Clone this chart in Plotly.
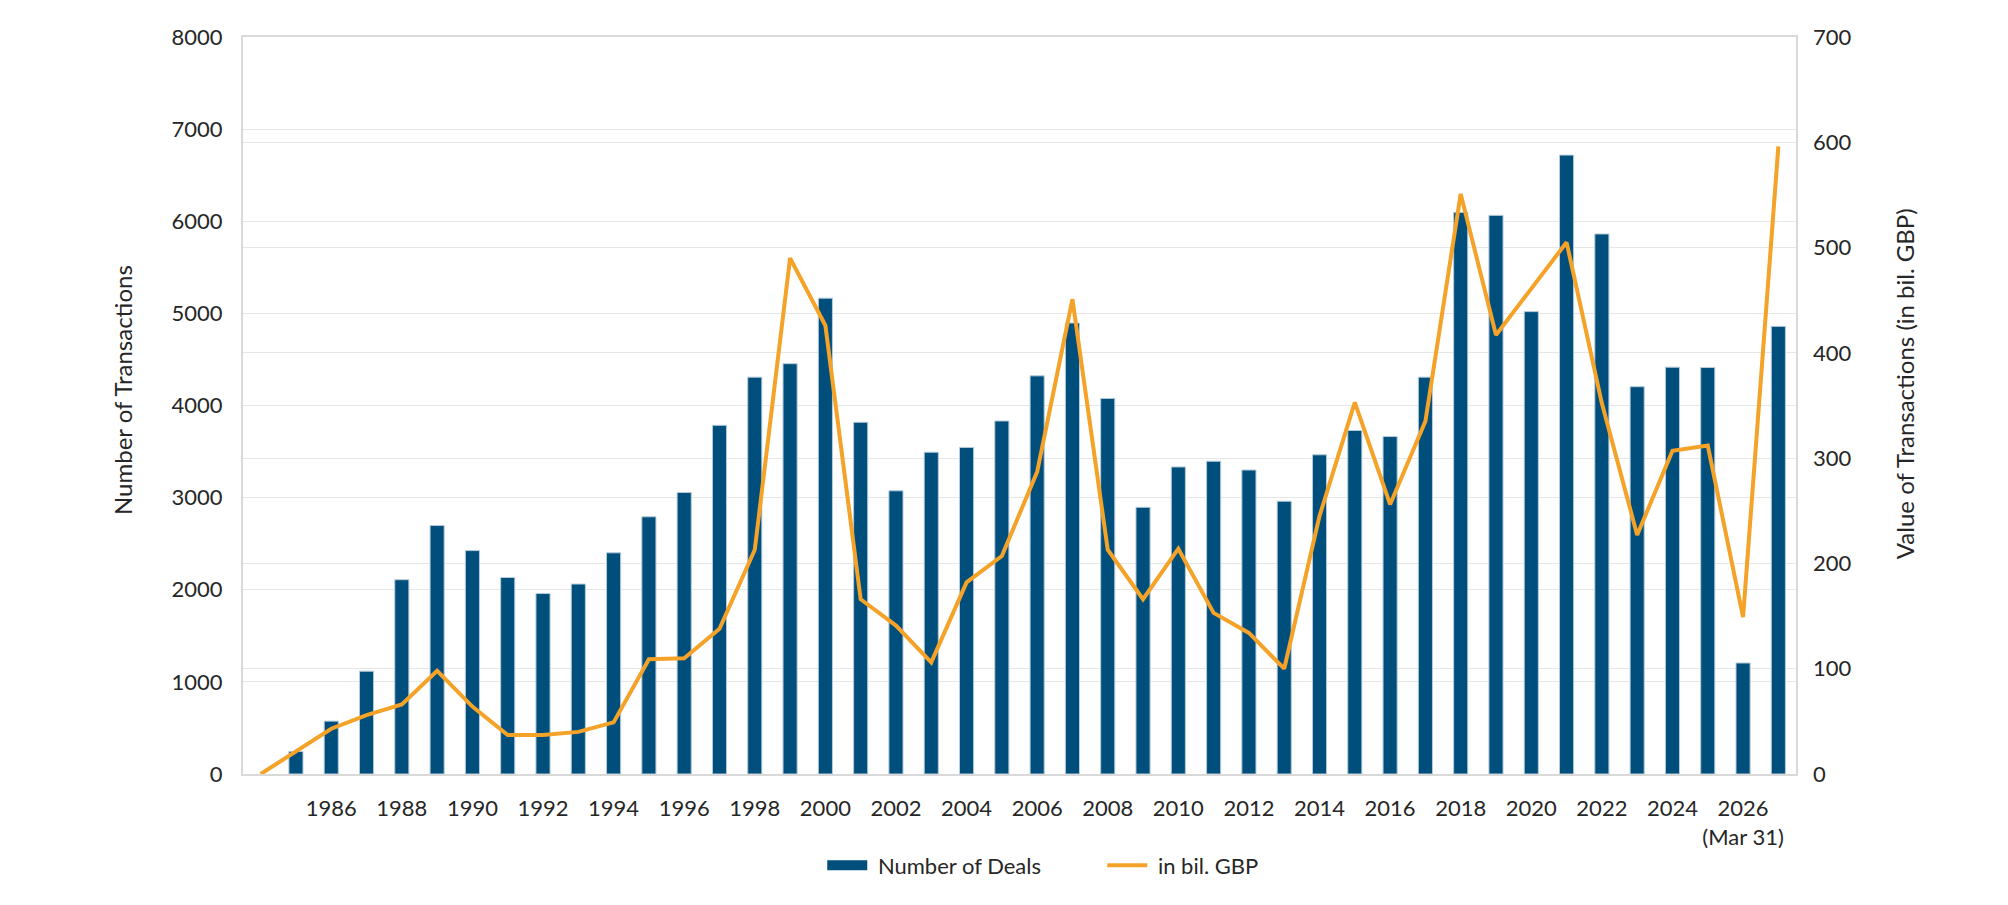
import plotly.graph_objects as go

years = list(range(1984, 2028))
deals = [None, 245, 574, 1116, 2109, 2698, 2425, 2133, 1959, 2062, 2401,
         2792, 3056, 3785, 4308, 4454, 5165, 3818, 3074, 3493, 3545,
         3832, 4322, 4896, 4077, 2895, 3333, 3395, 3300, 2961, 3465,
         3729, 3663, 4308, 6097, 6064, 5019, 6718, 5862, 4204, 4416,
         4412, 1205, 4859]
value_gbp = [0, 21, 43, 56, 66, 98, 64, 37, 37, 40, 49,
             109, 110, 138, 213, 490, 426, 166, 141, 106, 182,
             207, 287, 451, 213, 166, 214, 153, 134, 100, 245,
             353, 256, 335, 551, 417, 461, 505, 352, 227, 307,
             312, 149, 596]
tick_years = list(range(1986, 2027, 2))
tick_text = [str(y) for y in tick_years[:-1]] + ["2026<br>(Mar 31)"]

FONT = "Lato"
TXT = "#262626"
GRID = "#E6E6E6"
BLUE = "#004E7C"
ORANGE = "#F5A228"

fig = go.Figure()
fig.add_trace(go.Bar(
    x=years, y=deals, name="Number of Deals", showlegend=False,
    marker=dict(color=BLUE, line=dict(color="#B7CCDC", width=1)),
    width=0.4, yaxis="y",
))
fig.add_trace(go.Scatter(
    x=years, y=value_gbp, name="in bil. GBP", mode="lines", showlegend=False,
    line=dict(color=ORANGE, width=4), yaxis="y2",
))
# legend-only entries
fig.add_trace(go.Scatter(
    x=[None], y=[None], name=" Number of Deals", mode="lines",
    line=dict(color=BLUE, width=12), yaxis="y",
))
fig.add_trace(go.Scatter(
    x=[None], y=[None], name=" in bil. GBP", mode="lines",
    line=dict(color=ORANGE, width=4), yaxis="y2",
))

fig.update_layout(
    width=2008, height=905,
    margin=dict(l=243, r=212, t=37, b=131),
    paper_bgcolor="white", plot_bgcolor="white",
    font=dict(family=FONT, size=22, color=TXT),
    showlegend=True,
    legend=dict(orientation="h", x=0.373, xanchor="left", y=-0.124, yanchor="middle",
                font=dict(size=22, color=TXT), itemwidth=40, traceorder="normal",
                entrywidth=225, entrywidthmode="pixels"),
    xaxis=dict(range=[1983.5, 2027.5], tickmode="array", tickvals=tick_years,
               ticktext=tick_text, showgrid=False, showline=True,
               linecolor="#D9D9D9", linewidth=2, mirror=True, ticks="",
               ticklabelstandoff=14, tickfont=dict(size=22, color=TXT)),
    yaxis=dict(range=[0, 8000], dtick=1000, showgrid=True, gridcolor=GRID,
               gridwidth=1, showline=True, linecolor="#D9D9D9", linewidth=2,
               mirror=True, ticks="", ticklabelstandoff=14, zeroline=False,
               tickfont=dict(size=22, color=TXT)),
    yaxis2=dict(range=[0, 700], dtick=100, overlaying="y", side="right",
                showgrid=True, gridcolor=GRID, gridwidth=1, ticks="",
                ticklabelstandoff=16, zeroline=False,
                tickfont=dict(size=22, color=TXT)),
    annotations=[
        dict(text="Number of Transactions", xref="paper", yref="paper",
             x=(122 - 243) / 1553, y=0.521, textangle=-90, showarrow=False,
             font=dict(size=24, color=TXT), xanchor="center", yanchor="middle"),
        dict(text="Value of Transactions (in bil. GBP)", xref="paper", yref="paper",
             x=(1904 - 243) / 1553, y=0.529, textangle=-90, showarrow=False,
             font=dict(size=24, color=TXT), xanchor="center", yanchor="middle"),
    ],
    bargap=0.6,
)

fig.write_html("out.html")
